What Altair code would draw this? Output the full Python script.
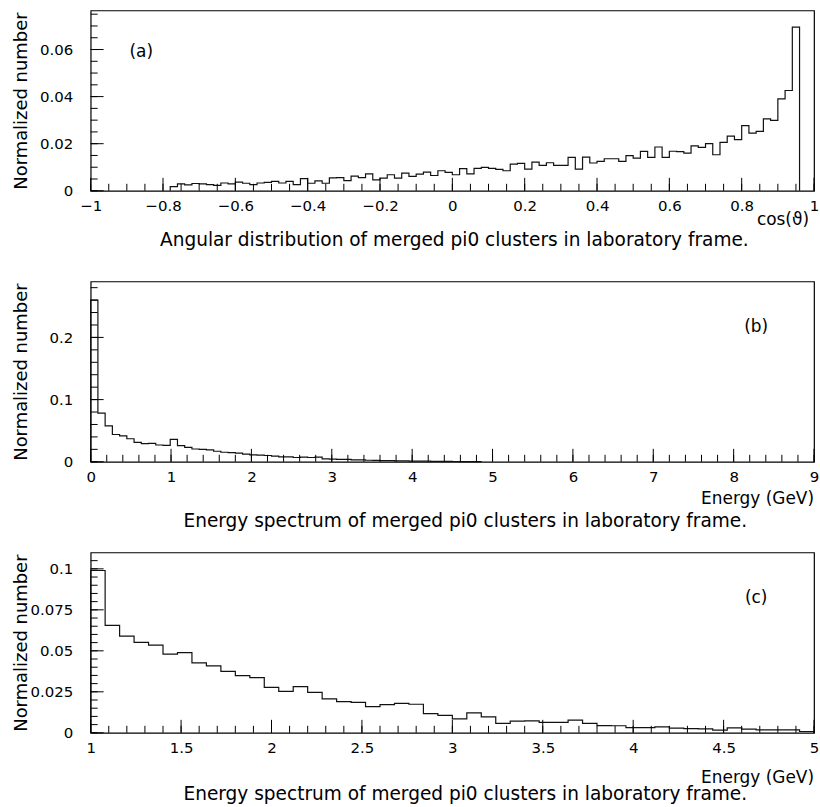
import altair as alt
import pandas as pd
import numpy as np

FONT = "DejaVu Sans"
W, H = 726, 181

# ---------------- data ----------------
# (a) angular distribution, bins of 0.02 starting at -0.78
a_start, a_width = -0.78, 0.02
a_vals = [0.0018, 0.0029, 0.0025, 0.0031, 0.0029, 0.0026, 0.0023, 0.0033, 0.0029, 0.0037,
          0.0032, 0.0026, 0.0033, 0.0036, 0.0040, 0.0033, 0.0040, 0.0026, 0.0052, 0.0032,
          0.0042, 0.0032, 0.0055, 0.0056, 0.0043, 0.0062, 0.0056, 0.0072, 0.0046, 0.0054,
          0.0068, 0.0054, 0.0075, 0.0061, 0.0071, 0.0079, 0.0065, 0.0085, 0.0078, 0.0068,
          0.0094, 0.0072, 0.0095, 0.0099, 0.0095, 0.0091, 0.0085, 0.0113, 0.0116, 0.0092,
          0.0122, 0.0108, 0.0119, 0.0108, 0.0108, 0.0142, 0.0092, 0.0143, 0.0118, 0.0125,
          0.0136, 0.0136, 0.0125, 0.0149, 0.0139, 0.0167, 0.0142, 0.0186, 0.0142, 0.0168,
          0.0166, 0.0160, 0.0191, 0.0184, 0.0200, 0.0153, 0.0206, 0.0232, 0.0217, 0.0277,
          0.0245, 0.0252, 0.0305, 0.0299, 0.0390, 0.0426, 0.0695]

# (b) energy spectrum, bins of 0.09 GeV starting at 0
b_start, b_width = 0.0, 0.09
b_vals = [0.260, 0.0783, 0.0577, 0.0439, 0.0418, 0.0370, 0.0312, 0.0291, 0.0296, 0.0270,
          0.0265, 0.0360, 0.0259, 0.0233, 0.0206, 0.0201, 0.0190, 0.0169, 0.0153, 0.0148,
          0.0138, 0.0122, 0.0111, 0.0106, 0.0101, 0.0090, 0.0079, 0.0079, 0.0069, 0.0074,
          0.0069, 0.0074, 0.0048, 0.0042, 0.0040, 0.0038, 0.0032, 0.0030, 0.0025, 0.0022,
          0.0020, 0.0018, 0.0016, 0.0015, 0.0012, 0.0011, 0.0010, 0.0008, 0.0007, 0.0006,
          0.0005, 0.0004, 0.0003, 0.0002]

# (c) energy spectrum above 1 GeV, bins of 0.08 GeV starting at 1
c_start, c_width = 1.0, 0.08
c_vals = [0.0990, 0.0655, 0.0590, 0.0551, 0.0535, 0.0480, 0.0489, 0.0426, 0.0408, 0.0375,
          0.0349, 0.0336, 0.0277, 0.0253, 0.0282, 0.0247, 0.0207, 0.0190, 0.0186, 0.0160,
          0.0172, 0.0180, 0.0174, 0.0117, 0.0106, 0.0085, 0.0122, 0.0097, 0.0058, 0.0071,
          0.0073, 0.0064, 0.0064, 0.0077, 0.0058, 0.0044, 0.0043, 0.0032, 0.0032, 0.0036,
          0.0028, 0.0026, 0.0024, 0.0016, 0.0030, 0.0022, 0.0018, 0.0018, 0.0018, 0.0008]

# tick labels
a_xlabels = [-1, -0.8, -0.6, -0.4, -0.2, 0, 0.2, 0.4, 0.6, 0.8, 1]
a_ylabels = [0, 0.02, 0.04, 0.06]
b_xlabels = [0, 1, 2, 3, 4, 5, 6, 7, 8, 9]
b_ylabels = [0, 0.1, 0.2]
c_xlabels = [1, 1.5, 2, 2.5, 3, 3.5, 4, 4.5, 5]
c_ylabels = [0, 0.025, 0.05, 0.075, 0.1]

captions = ["Angular distribution of merged pi0 clusters in laboratory frame.",
            "Energy spectrum of merged pi0 clusters in laboratory frame.",
            "Energy spectrum of merged pi0 clusters in laboratory frame."]
xtitles = ["cos(\u03d1)", "Energy (GeV)", "Energy (GeV)"]
tags = ["(a)", "(b)", "(c)"]


def grid(lo, hi, step):
    n = int(round((hi - lo) / step))
    return [round(lo + k * step, 6) for k in range(n + 1)]


def hist_df(lo, w, vals):
    xs = [lo] + [lo + i * w for i in range(len(vals))] + [lo + len(vals) * w]
    ys = [0.0] + list(vals) + [0.0]
    return pd.DataFrame({"x": xs, "y": ys, "i": list(range(len(xs)))})


def panel(vals, lo, w, xdom, ydom, xlab, ylab, xminor, yminor, tag, tagx, tagy,
          xtitle, caption, xt_dy, xt_dx, cap_dy, cap_dx):
    xs = alt.Scale(domain=xdom, nice=False, zero=False)
    ys = alt.Scale(domain=ydom, nice=False, zero=False)
    xax = alt.Axis(
        values=xlab, format=".4~g", ticks=False, domain=False, grid=False,
        labelFont=FONT, labelFontSize=15, labelColor="black", labelPadding=8,
        labelFlush=False, labelOverlap=False, title=None)
    yax = alt.Axis(
        values=ylab, format=".4~g", ticks=False, domain=False, grid=False,
        labelFont=FONT, labelFontSize=15, labelColor="black", labelPadding=18,
        labelFlush=False, labelOverlap=False,
        title="Normalized number", titleFont=FONT, titleFontSize=18,
        titleFontWeight="normal", titleColor="black", titleAngle=270,
        titleX=-64, titleY=H / 2, titleAlign="center", titleBaseline="alphabetic")
    hist = alt.Chart(hist_df(lo, w, vals)).mark_line(
        interpolate="step-after", color="#111111", strokeWidth=1.2
    ).encode(
        x=alt.X("x:Q", scale=xs, axis=xax, title=None),
        y=alt.Y("y:Q", scale=ys, axis=yax, title="Normalized number"),
        order="i:Q",
    )
    xmaj = alt.Chart(pd.DataFrame({"t": xlab})).mark_rule(color="black", strokeWidth=1).encode(
        x=alt.X("t:Q", scale=xs, axis=xax, title=None), y=alt.value(H), y2=alt.value(H - 13))
    xmin = alt.Chart(pd.DataFrame({"t": xminor})).mark_rule(color="black", strokeWidth=1).encode(
        x=alt.X("t:Q", scale=xs, axis=xax, title=None), y=alt.value(H), y2=alt.value(H - 7))
    ymaj = alt.Chart(pd.DataFrame({"t": ylab})).mark_rule(color="black", strokeWidth=1).encode(
        y=alt.Y("t:Q", scale=ys, axis=yax, title="Normalized number"), x=alt.value(0), x2=alt.value(13))
    ymin = alt.Chart(pd.DataFrame({"t": yminor})).mark_rule(color="black", strokeWidth=1).encode(
        y=alt.Y("t:Q", scale=ys, axis=yax, title="Normalized number"), x=alt.value(0), x2=alt.value(7))
    tagc = alt.Chart(pd.DataFrame({"x": [tagx], "y": [tagy], "s": [tag]})).mark_text(
        font=FONT, fontSize=17, color="black", align="center", baseline="middle").encode(
        x=alt.X("x:Q", scale=xs, axis=xax, title=None),
        y=alt.Y("y:Q", scale=ys, axis=yax, title="Normalized number"), text="s:N")
    xt = alt.Chart(pd.DataFrame({"s": [xtitle]})).mark_text(
        font=FONT, fontSize=17, color="black", align="right", baseline="alphabetic").encode(
        x=alt.value(W - xt_dx), y=alt.value(H + xt_dy), text="s:N")
    cap = alt.Chart(pd.DataFrame({"s": [caption]})).mark_text(
        font=FONT, fontSize=18.6, color="black", align="center", baseline="alphabetic").encode(
        x=alt.value(W / 2 + cap_dx), y=alt.value(H + cap_dy), text="s:N")
    return alt.layer(hist, xmaj, xmin, ymaj, ymin, tagc, xt, cap).properties(width=W, height=H)


pa = panel(a_vals, a_start, a_width, [-1, 1], [0, 0.0766], a_xlabels, a_ylabels,
           grid(-1, 1, 0.05), grid(0, 0.075, 0.005), tags[0], -0.86, 0.059,
           xtitles[0], captions[0], 34, 5, 55, 2)
pb = panel(b_vals, b_start, b_width, [0, 9], [0, 0.29], b_xlabels, b_ylabels,
           grid(0, 9, 0.2), grid(0, 0.28, 0.02), tags[1], 8.28, 0.217,
           xtitles[1], captions[1], 42, 0, 65, 13)
pc = panel(c_vals, c_start, c_width, [1, 5], [0, 0.11], c_xlabels, c_ylabels,
           grid(1, 5, 0.1), grid(0, 0.105, 0.005), tags[2], 4.68, 0.082,
           xtitles[2], captions[2], 50, 0, 67, 13)

chart = alt.vconcat(pa, pb, pc, spacing=91, bounds="flush").resolve_scale(
    x="independent", y="independent"
).properties(
    padding={"left": 12, "top": 8, "right": 0, "bottom": 0}, background="white"
).configure_view(stroke="black", strokeWidth=1.2)

chart.save("out.html", embed_options={"renderer": "svg", "actions": False})
